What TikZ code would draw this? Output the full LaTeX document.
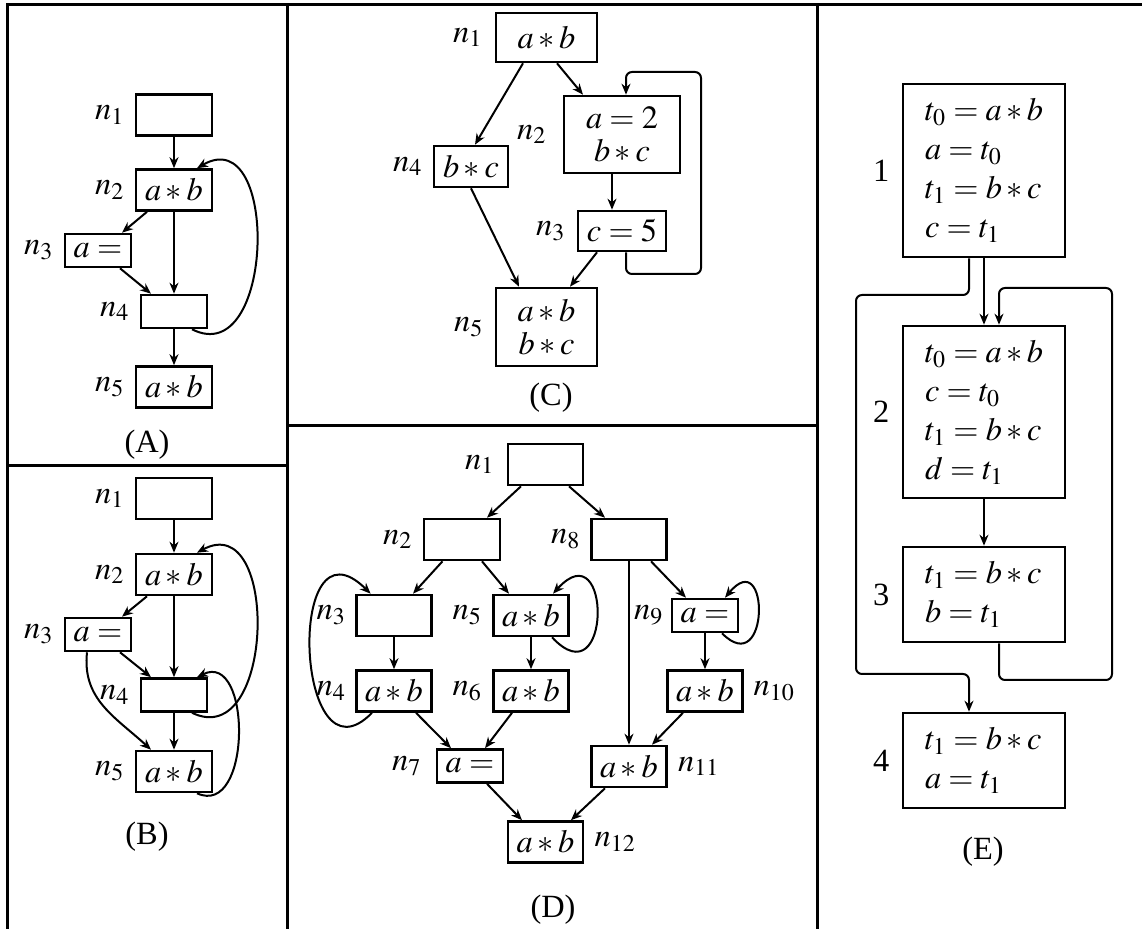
\documentclass[tikz,border=0pt]{standalone}
\usepackage{mathptmx}
\usepackage[no-math]{fontspec}
\setmainfont{Liberation Serif}
\usetikzlibrary{arrows.meta,positioning}
\newcommand{\myfs}{\fontsize{16.2pt}{16.5pt}\selectfont}
\newcommand{\myfe}{\fontsize{16.2pt}{19.5pt}\selectfont}
\tikzset{
  box/.style={draw, line width=1.3pt, inner sep=0pt, font=\myfs, align=center},
  lbl/.style={inner sep=0pt, font=\myfs},
  arr/.style={-{Stealth[length=5.5pt,width=4.5pt]}, line width=1pt},
  frame/.style={line width=1.5pt},
  wbig/.style={minimum width=38pt, minimum height=20.5pt},
  wsmall/.style={minimum width=33pt, minimum height=16.5pt},
  ebox/.style={box, font=\myfe, text width=59pt, align=left, minimum width=81pt},
}
\begin{document}
\begin{tikzpicture}[x=0.5pt,y=-0.5pt]
\useasboundingbox (0,0) rectangle (1142,929);
% frame
\draw[frame] (7,929) -- (7,5) -- (1142,5);
\draw[frame] (287,5) -- (287,929);
\draw[frame] (817,5) -- (817,929);
\draw[frame] (7,466) -- (287,466);
\draw[frame] (287,426) -- (817,426);

% ---------- Panel A ----------
\node[box, wbig] (A1) at (174,115) {};
\node[box, wbig] (A2) at (174,190) {$a*b$};
\node[box, wsmall] (A3) at (98,250.5) {$a=$};
\node[box, wsmall] (A4) at (174,311.5) {};
\node[box, wbig] (A5) at (174,387) {$a*b$};
\node[lbl, left=5pt of A1] (A1l) {$n_1$};
\node[lbl, left=5pt of A2] (A2l) {$n_2$};
\node[lbl, left=5pt of A3] (A3l) {$n_3$};
\node[lbl, left=5pt of A4] (A4l) {$n_4$};
\node[lbl, left=5pt of A5] (A5l) {$n_5$};
\node[lbl] (capA) at (147,445) {(A)};
\draw[arr] (A1.south) -- (A2.north);
\draw[arr] ([xshift=-13.5pt]A2.south) -- ([xshift=12pt]A3.north);
\draw[arr] ([xshift=11pt]A3.south) -- ([xshift=-11.5pt]A4.north);
\draw[arr] (A2.south) -- (A4.north);
\draw[arr] (A4.south) -- (A5.north);
\draw[arr] ([xshift=9pt]A4.south) .. controls +(83,42) and +(83,-48) .. ([xshift=11.5pt]A2.north);

% ---------- Panel B ----------
\node[box, wbig] (B1) at (174,498.5) {};
\node[box, wbig] (B2) at (174,574.5) {$a*b$};
\node[box, wsmall] (B3) at (98,634.5) {$a=$};
\node[box, wsmall] (B4) at (174,695) {};
\node[box, wbig] (B5) at (174,771.5) {$a*b$};
\node[lbl, left=5pt of B1] (B1l) {$n_1$};
\node[lbl, left=5pt of B2] (B2l) {$n_2$};
\node[lbl, left=5pt of B3] (B3l) {$n_3$};
\node[lbl, left=5pt of B4] (B4l) {$n_4$};
\node[lbl, left=5pt of B5] (B5l) {$n_5$};
\node[lbl] (capB) at (147,837) {(B)};
\draw[arr] (B1.south) -- (B2.north);
\draw[arr] ([xshift=-13.5pt]B2.south) -- ([xshift=12pt]B3.north);
\draw[arr] ([xshift=11pt]B3.south) -- ([xshift=-11.5pt]B4.north);
\draw[arr] (B2.south) -- (B4.north);
\draw[arr] (B4.south) -- (B5.north);
\draw[arr] ([xshift=9pt]B4.south) .. controls +(83,40) and +(83,-45) .. ([xshift=11.5pt]B2.north);
\draw[arr] ([xshift=11.5pt]B5.south) .. controls +(55,25) and +(55,-27) .. ([xshift=11.5pt]B4.north);
\draw[arr] ([xshift=-5.5pt]B3.south) .. controls +(-5,47) and +(-36,-33) .. ([xshift=-11.5pt]B5.north);

% ---------- Panel C ----------
\node[box, minimum width=50.5pt, minimum height=24.5pt] (C1) at (546.5,37.5) {$a*b$};
\node[box, minimum width=58pt, minimum height=38.5pt] (C2) at (622,134.5) {$a=2$\\$b*c$};
\node[box, minimum width=37pt, minimum height=20.5pt] (C4) at (471,166.5) {$b*c$};
\node[box, minimum width=44pt, minimum height=20pt] (C3) at (622,231) {$c=5$};
\node[box, minimum width=50.5pt, minimum height=39pt] (C5) at (546.5,327) {$a*b$\\$b*c$};
\node[lbl, left=6pt of C1] (C1l) {$n_1$};
\node[lbl, left=8pt of C2] (C2l) {$n_2$};
\node[lbl, left=5pt of C4] (C4l) {$n_4$};
\node[lbl, left=5.5pt of C3] (C3l) {$n_3$};
\node[lbl, left=5.5pt of C5] (C5l) {$n_5$};
\node[lbl] (capC) at (551,398) {(C)};
\coordinate (Cbr) at (701,274);
\coordinate (Ctr) at (701,72);
\draw[arr] ([xshift=-11.75pt]C1.south) -- ([xshift=2pt]C4.north);
\draw[arr] ([xshift=5.25pt]C1.south) -- ([xshift=-19.5pt]C2.north);
\draw[arr] ([xshift=-5pt]C2.south) -- ([xshift=-5pt]C3.north);
\draw[arr] ([xshift=-12.5pt]C3.south) -- ([xshift=11.75pt]C5.north);
\draw[arr] (C4.south) -- ([xshift=-13.75pt]C5.north);
\draw[arr, rounded corners=3pt] ([xshift=2pt]C3.south) |- (Cbr) -- (Ctr) -| ([xshift=2pt]C2.north);

% ---------- Panel D ----------
\node[box, wbig, minimum width=37.5pt] (D1) at (545.5,464.5) {};
\node[box, wbig] (D2) at (462,539.5) {};
\node[box, wbig, minimum width=37.5pt] (D8) at (629,539.5) {};
\node[box, wbig, minimum width=37.5pt] (D3) at (394,615.5) {};
\node[box, wbig, minimum width=37.5pt] (D5) at (531,615.5) {$a*b$};
\node[box, wsmall] (D9) at (705,615.5) {$a=$};
\node[box, wbig, minimum width=37.5pt] (D4) at (394,691) {$a*b$};
\node[box, wbig, minimum width=37.5pt] (D6) at (531,691) {$a*b$};
\node[box, wbig, minimum width=37.5pt] (D10) at (705,691) {$a*b$};
\node[box, wsmall] (D7) at (470,766) {$a=$};
\node[box, wbig, minimum width=37.5pt] (D11) at (629,766.5) {$a*b$};
\node[box, wbig, minimum width=37.5pt] (D12) at (545.5,842) {$a*b$};
\node[lbl, left=6pt of D1] (D1l) {$n_1$};
\node[lbl, left=5pt of D2] (D2l) {$n_2$};
\node[lbl, left=4.75pt of D8] (D8l) {$n_8$};
\node[lbl, left=4.5pt of D3] (D3l) {$n_3$};
\node[lbl, left=5pt of D5] (D5l) {$n_5$};
\node[lbl, left=3.5pt of D9] (D9l) {$n_9$};
\node[lbl, left=4.5pt of D4] (D4l) {$n_4$};
\node[lbl, left=5pt of D6] (D6l) {$n_6$};
\node[lbl, left=7pt of D7] (D7l) {$n_7$};
\node[lbl, right=4.75pt of D10] (D10l) {$n_{10}$};
\node[lbl, right=5pt of D11] (D11l) {$n_{11}$};
\node[lbl, right=5pt of D12] (D12l) {$n_{12}$};
\node[lbl] (capD) at (553,910) {(D)};
\draw[arr] ([xshift=-12.25pt]D1.south) -- ([xshift=12.5pt]D2.north);
\draw[arr] ([xshift=11.75pt]D1.south) -- ([xshift=-12pt]D8.north);
\draw[arr] ([xshift=-9.75pt]D2.south) -- ([xshift=9.5pt]D3.north);
\draw[arr] ([xshift=10pt]D2.south) -- ([xshift=-11pt]D5.north);
\draw[arr] ([xshift=11pt]D8.south) -- ([xshift=-9.5pt]D9.north);
\draw[arr] (D8.south) -- (D11.north);
\draw[arr] (D3.south) -- (D4.north);
\draw[arr] (D5.south) -- (D6.north);
\draw[arr] (D9.south) -- (D10.north);
\draw[arr] ([xshift=11pt]D4.south) -- ([xshift=-9.5pt]D7.north);
\draw[arr] ([xshift=-9.5pt]D6.south) -- ([xshift=7.5pt]D7.north);
\draw[arr] ([xshift=-11pt]D10.south) -- ([xshift=11.5pt]D11.north);
\draw[arr] ([xshift=8.5pt]D7.south) -- ([xshift=-11.75pt]D12.north);
\draw[arr] ([xshift=-12pt]D11.south) -- ([xshift=12.75pt]D12.north);
\draw[arr] ([xshift=-11pt]D4.south) .. controls +(-77,79) and +(-86,-85) .. ([xshift=-11.7pt]D3.north);
\draw[arr] ([xshift=10.5pt]D5.south) .. controls +(60,64) and +(59,-65) .. ([xshift=11pt]D5.north);
\draw[arr] ([xshift=8.5pt]D9.south) .. controls +(48,48) and +(45,-54) .. ([xshift=10pt]D9.north);

% ---------- Panel E ----------
\node[ebox, minimum height=86.5pt] (E1) at (984,170.5) {$t_0=a*b$\\$a=t_0$\\$t_1=b*c$\\$c=t_1$};
\node[ebox, minimum height=86pt] (E2) at (984,412) {$t_0=a*b$\\$c=t_0$\\$t_1=b*c$\\$d=t_1$};
\node[ebox, minimum height=47.5pt] (E3) at (984,594.5) {$t_1=b*c$\\$b=t_1$};
\node[ebox, minimum height=47.5pt] (E4) at (984,760.5) {$t_1=b*c$\\$a=t_1$};
\node[lbl, left=6pt of E1] (E1l) {1};
\node[lbl, left=6pt of E2] (E2l) {2};
\node[lbl, left=6pt of E3] (E3l) {3};
\node[lbl, left=6pt of E4] (E4l) {4};
\node[lbl] (capE) at (983,852) {(E)};
\coordinate (Ea) at (856,295);
\coordinate (Eb) at (856,674);
\coordinate (Ec) at (1112,680);
\coordinate (Ed) at (1112,288);
\draw[arr] (E1.south) -- (E2.north);
\draw[arr] (E2.south) -- (E3.north);
\draw[arr, rounded corners=3pt] ([xshift=-7.5pt]E1.south) |- (Ea) -- (Eb) -| ([xshift=-7.5pt]E4.north);
\draw[arr, rounded corners=3pt] ([xshift=7.5pt]E3.south) |- (Ec) -- (Ed) -| ([xshift=7.5pt]E2.north);
\end{tikzpicture}
\end{document}
